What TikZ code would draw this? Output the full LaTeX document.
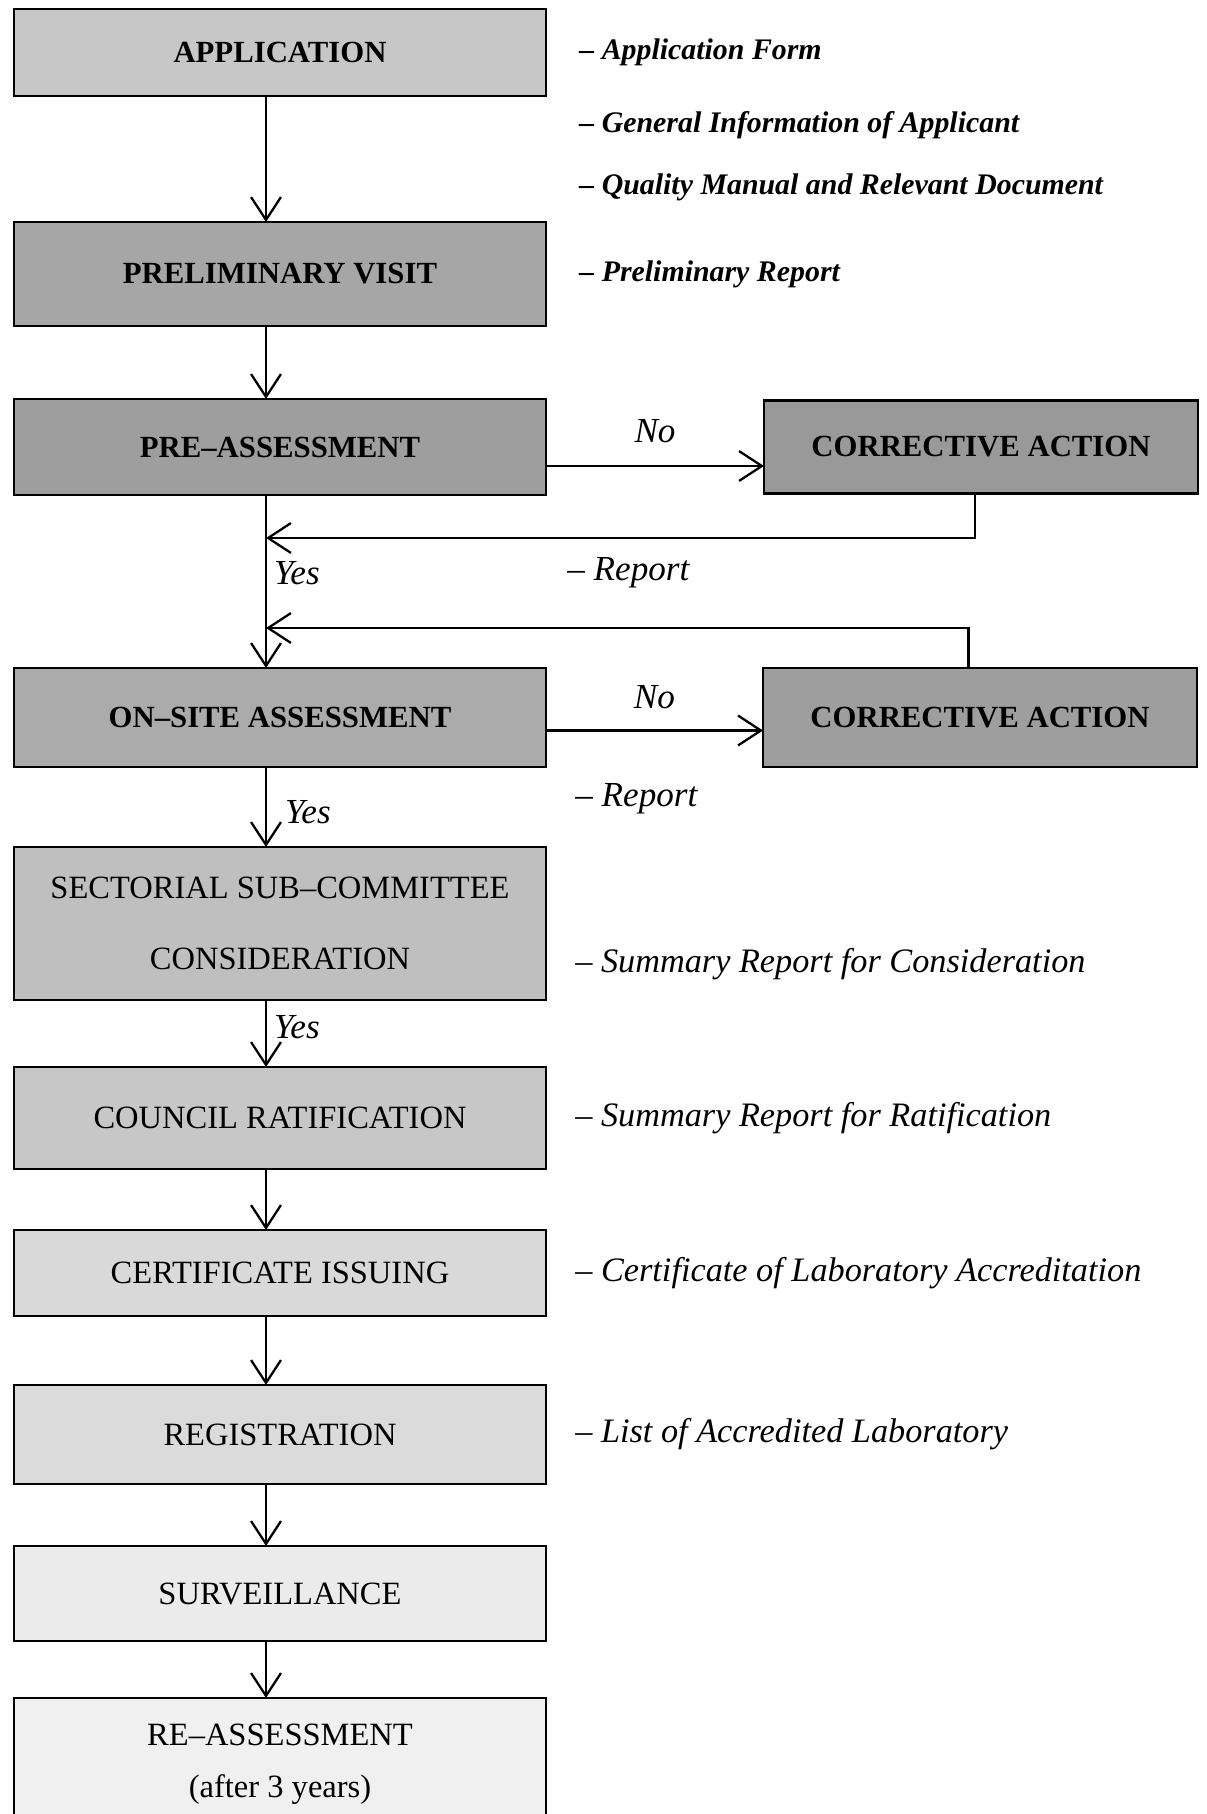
\documentclass[tikz,border=0pt]{standalone}
\usepackage{fontspec}
\setmainfont{Liberation Serif}
\usetikzlibrary{
    arrows.meta,
    positioning
}
\tikzstyle{box} = [
    rectangle, draw,
    line width=1.6pt,
    minimum width=10.64cm,
    text centered,
    align=center,
    inner sep=0pt,
    outer sep=0pt,
    font=\fontsize{18.5}{22}\selectfont
]
\tikzstyle{hibox} = [
    box,
    font=\fontsize{17.5}{21}\selectfont\bfseries
]
\tikzstyle{doc} = [
    inner sep=0pt,
    font=\fontsize{19.5}{23}\selectfont\itshape
]
\tikzstyle{hidoc} = [
    doc,
    font=\fontsize{17}{20}\selectfont\bfseries\itshape
]
\tikzstyle{answer} = [
    inner sep=0pt,
    font=\fontsize{20}{24}\selectfont\itshape
]
\tikzstyle{arrow} = [
    line width=1.3pt,
    -{Straight Barb[length=13pt, width=17pt, line width=1.3pt]}
]

\begin{document}
\begin{tikzpicture}
\useasboundingbox (0,0) rectangle (24.14,-36.28);

\coordinate (spine) at (5.32,0);

% main column
\node (app) [hibox, fill=black!22, minimum height=1.74cm] at (5.6,-1.05)
    {APPLICATION};
\node (prelim) [hibox, fill=black!35, minimum height=2.08cm, below=2.52cm of app]
    {PRELIMINARY VISIT};
\node (preass) [hibox, fill=black!38, minimum height=1.92cm, below=1.46cm of prelim]
    {PRE--ASSESSMENT};
\node (onsite) [hibox, fill=black!33, minimum height=1.98cm, below=3.46cm of preass]
    {ON--SITE ASSESSMENT};
\node (sect) [box, fill=black!25, minimum height=3.06cm, below=1.6cm of onsite]
    {SECTORIAL SUB--COMMITTEE\\[18pt]CONSIDERATION};
\node (council) [box, fill=black!22, minimum height=2.04cm, below=1.34cm of sect]
    {COUNCIL RATIFICATION};
\node (cert) [box, fill=black!15, minimum height=1.72cm, below=1.22cm of council]
    {CERTIFICATE ISSUING};
\node (reg) [box, fill=black!14, minimum height=1.98cm, below=1.38cm of cert]
    {REGISTRATION};
\node (surv) [box, fill=black!8, minimum height=1.9cm, below=1.24cm of reg]
    {SURVEILLANCE};
\node (reass) [box, fill=black!6, minimum height=2.64cm, below=1.14cm of surv]
    {RE--ASSESSMENT\\[7.5pt](after 3 years)};

% corrective actions
\node (ca1) [hibox, fill=black!40, minimum width=8.68cm, minimum height=1.86cm, right=4.36cm of preass]
    {CORRECTIVE ACTION};
\node (ca2) [hibox, fill=black!38, minimum width=8.68cm, minimum height=1.98cm, right=4.34cm of onsite]
    {CORRECTIVE ACTION};

% documents
\node (formA) [hidoc, right=0.66cm of app] {-- Application Form};
\node (formB) [hidoc, below=1.46cm of formA.west, anchor=west] {-- General Information of Applicant};
\node (formC) [hidoc, below=1.24cm of formB.west, anchor=west] {-- Quality Manual and Relevant Document};
\node (prep) [hidoc, right=0.66cm of prelim] {-- Preliminary Report};
\node (rep1) [answer, anchor=west] at (11.34,-11.46) {-- Report};
\node (rep2) [answer, anchor=west] at (11.5,-15.98) {-- Report};
\node (sumcons) [doc, right=0.58cm of sect.east, yshift=-0.82cm] {-- Summary Report for Consideration};
\node (sumrat) [doc, right=0.58cm of council] {-- Summary Report for Ratification};
\node (certdoc) [doc, right=0.58cm of cert] {-- Certificate of Laboratory Accreditation};
\node (list) [doc, right=0.58cm of reg] {-- List of Accredited Laboratory};

\draw [arrow] (app.south -| spine) -- (prelim.north -| spine);
\draw [arrow] (prelim.south -| spine) -- (preass.north -| spine);
\draw [arrow] (preass.south -| spine) -- (onsite.north -| spine)
    node [answer, pos=0.45, right=0.14cm] {Yes};
\draw [arrow] (onsite.south -| spine) -- (sect.north -| spine)
    node [answer, pos=0.56, right=0.36cm] {Yes};
\draw [arrow] (sect.south -| spine) -- (council.north -| spine)
    node [answer, pos=0.4, right=0.14cm] {Yes};
\draw [arrow] (council.south -| spine) -- (cert.north -| spine);
\draw [arrow] (cert.south -| spine) -- (reg.north -| spine);
\draw [arrow] (reg.south -| spine) -- (surv.north -| spine);
\draw [arrow] (surv.south -| spine) -- (reass.north -| spine);

% No branches
\coordinate (no1) at ([yshift=-0.38cm]preass.east);
\draw [arrow] (no1) -- (no1 -| ca1.west)
    node [answer, midway, above=0.45cm] {No};
\coordinate (no2) at ([yshift=-0.26cm]onsite.east);
\draw [arrow] (no2) -- (no2 -| ca2.west)
    node [answer, midway, above=0.41cm] {No};

% back after correction
\coordinate (back1) at (5.32,-10.76);
\draw [arrow] ([xshift=-0.12cm]ca1.south) |- (back1);
\coordinate (back2) at (5.32,-12.56);
\draw [arrow] ([xshift=-0.23cm]ca2.north) |- (back2);

\end{tikzpicture}
\end{document}
